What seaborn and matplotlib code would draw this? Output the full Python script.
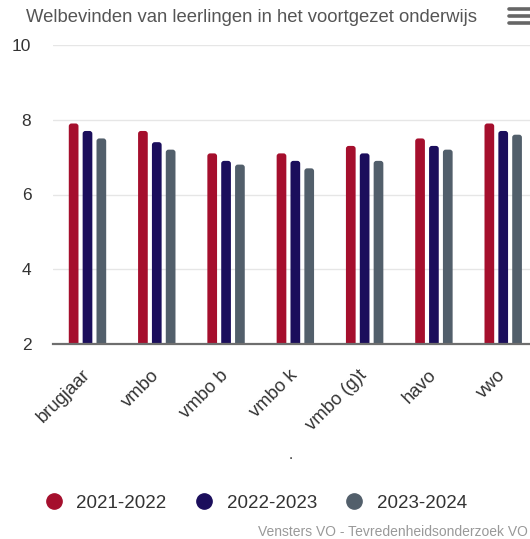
import numpy as np
import pandas as pd
import matplotlib.pyplot as plt
import matplotlib.transforms as mtransforms
import seaborn as sns
from matplotlib.lines import Line2D
from matplotlib.patches import FancyBboxPatch

# Welbevinden leerlingen per schoolsoort, drie schooljaren
categories = ["brugjaar", "vmbo", "vmbo b", "vmbo k", "vmbo (g)t", "havo", "vwo"]
years = ["2021-2022", "2022-2023", "2023-2024"]
vals_2122 = [7.9, 7.7, 7.1, 7.1, 7.3, 7.5, 7.9]
vals_2223 = [7.7, 7.4, 6.9, 6.9, 7.1, 7.3, 7.7]
vals_2324 = [7.5, 7.2, 6.8, 6.7, 6.9, 7.2, 7.6]
colors = ["#A50F2D", "#1B0E5C", "#525F6B"]

df = pd.DataFrame({
    "cat": categories * 3,
    "year": [years[0]] * 7 + [years[1]] * 7 + [years[2]] * 7,
    "val": vals_2122 + vals_2223 + vals_2324,
})

sns.set_style("white")
plt.rcParams["font.family"] = ["Liberation Sans", "DejaVu Sans"]

fig = plt.figure(figsize=(5.3, 5.39), dpi=100)
ax = fig.add_axes([52.85 / 530, 1 - 344 / 539, 485 / 530, 299 / 539])

sns.barplot(data=df, x="cat", y="val", hue="year", palette=colors,
            width=0.6, ax=ax, legend=False, saturation=1)

ax.set_ylim(2, 10)
ax.set_xlim(-0.5, 6.5)

# narrower bars with rounded tops
for p in list(ax.patches):
    w = p.get_width()
    if w <= 0:
        continue
    c = p.get_x() + w / 2
    rb = FancyBboxPatch((c - 0.07, p.get_y()), 0.14, p.get_height(),
                        boxstyle="round,pad=0,rounding_size=0.04",
                        mutation_aspect=1.85, facecolor=p.get_facecolor(),
                        edgecolor="none", zorder=p.get_zorder())
    p.set_visible(False)
    ax.add_patch(rb)

ax.set_yticks([2, 4, 6, 8, 10])
ax.grid(axis="y", color="#e6e6e6", lw=1)
ax.set_axisbelow(True)
for s in ["top", "right", "left"]:
    ax.spines[s].set_visible(False)
ax.spines["bottom"].set_color("#6e6e6e")
ax.spines["bottom"].set_linewidth(1.6)
ax.spines["bottom"].set_zorder(5)
ax.tick_params(axis="y", length=0, pad=15.5, labelsize=12.5, labelcolor="#333333")
ax.tick_params(axis="x", length=0, pad=4, labelsize=13.3, labelcolor="#333333")
shift = mtransforms.ScaledTranslation(-6 / 100, -17 / 100, fig.dpi_scale_trans)
for lab in ax.get_xticklabels():
    lab.set_rotation(45)
    lab.set_ha("right")
    lab.set_rotation_mode("anchor")
    lab.set_transform(lab.get_transform() + shift)
ax.set_xlabel("")
ax.set_ylabel("")

fig.text(252 / 530, 1 - 17 / 539, "Welbevinden van leerlingen in het voortgezet onderwijs",
         ha="center", va="center", fontsize=13.3, color="#555555")
fig.text(291 / 530, 1 - 455 / 539, ".", ha="center", va="center", fontsize=11, color="#333333")

# menu icon
for yy in [9, 16, 23]:
    fig.add_artist(Line2D([509 / 530, 530 / 530], [1 - yy / 539] * 2,
                          color="#666666", lw=2.6, solid_capstyle="round"))

handles = [Line2D([0], [0], marker="o", ls="none", markersize=11,
                  markerfacecolor=c, markeredgecolor=c) for c in colors]
fig.legend(handles, years, loc="center", bbox_to_anchor=(251 / 530, 1 - 503 / 539),
           ncol=3, frameon=False, fontsize=13.5, handletextpad=0.2,
           columnspacing=1.0, labelcolor="#333333")

fig.text(528 / 530, 1 - 532 / 539, "Vensters VO - Tevredenheidsonderzoek VO",
         ha="right", va="center", fontsize=10, color="#999999")

fig.savefig("out.png", dpi=100)
